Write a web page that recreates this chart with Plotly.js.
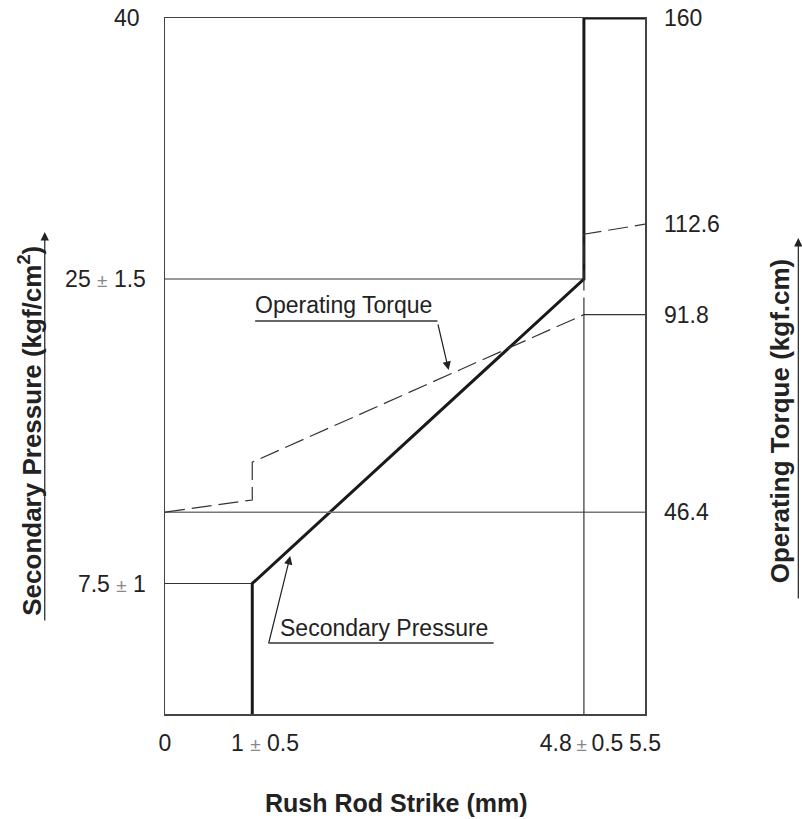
<!DOCTYPE html>
<html>
<head>
<meta charset="utf-8">
<script src="https://cdn.plot.ly/plotly-3.0.1.min.js"></script>
<style>html,body{margin:0;padding:0;background:#fff;}#chart{width:802px;height:819px;}</style>
</head>
<body>
<div id="chart"></div>
<script>
// ---- data ----
const pressureX = [1, 1, 4.8, 4.8, 5.5];
const pressureY = [0, 7.5, 25, 40, 40];
const torqueX = [0, 1, 1, 4.8, 4.8, 5.5];
const torqueY = [46.4, 49.2, 57.9, 91.8, 110.3, 112.6];
const pressureGuideLevels = [7.5, 25];
const pressureGuideEnds = [1, 4.8];
const torqueGuideLevels = [46.4, 91.8];
const torqueGuideStarts = [0, 4.8];
const torqueGuideEnd = 5.5;
const strokeAtLimit = 4.8;
const xTickVals = [0, 1, 4.8, 5.5];
const pm = "<span style='font-size:19px;color:#888'>±</span>";
const xTickText = ["0", "\u00a0\u00a0\u00a0\u00a01 " + pm + " 0.5", "4.8\u2009" + pm + "\u20090.5\u2009", "5.5"];
const yTickVals = [7.5, 25, 40];
const yTickText = ["7.5 " + pm + " 1", "25 " + pm + " 1.5", "40\u00a0"];
const y2TickVals = [46.4, 91.8, 112.6, 160];
const y2TickText = ["46.4", "91.8", "112.6", "160"];

const thin = {color: '#333', width: 1.2};
const traces = [];
// pressure guide lines (left axis)
pressureGuideLevels.forEach((lv, i) => {
  traces.push({x: [0, pressureGuideEnds[i]], y: [lv, lv], mode: 'lines', line: thin, hoverinfo: 'skip', showlegend: false, cliponaxis: false});
});
// torque guide lines (right axis)
torqueGuideLevels.forEach((lv, i) => {
  traces.push({x: [torqueGuideStarts[i], torqueGuideEnd], y: [lv, lv], yaxis: 'y2', mode: 'lines',
    line: i === 0 ? {color: '#777', width: 1.5} : thin, hoverinfo: 'skip', showlegend: false, cliponaxis: false});
});
// vertical guide at stroke limit
traces.push({x: [strokeAtLimit, strokeAtLimit], y: [0, torqueGuideLevels[1]], yaxis: 'y2', mode: 'lines', line: thin, hoverinfo: 'skip', showlegend: false, cliponaxis: false});
// torque dashed curve
traces.push({x: torqueX, y: torqueY, yaxis: 'y2', mode: 'lines', name: 'Operating Torque',
  line: {color: '#333', width: 1.2, dash: '20px,7px'}, showlegend: false, cliponaxis: false});
// secondary pressure thick curve
traces.push({x: pressureX, y: pressureY, mode: 'lines', name: 'Secondary Pressure',
  line: {color: '#1a1a1a', width: 3}, showlegend: false, cliponaxis: false});

const font = {family: 'Liberation Sans, Arial, sans-serif', size: 23, color: '#222'};
const boldX = {family: 'Liberation Sans, Arial, sans-serif', size: 25, color: '#222', weight: 'bold'};
const boldY = {family: 'Liberation Sans, Arial, sans-serif', size: 26, color: '#222', weight: 'bold'};

const layout = {
  width: 802, height: 819,
  margin: {l: 165, r: 157, t: 18, b: 105},
  paper_bgcolor: '#fff', plot_bgcolor: '#fff',
  font: font,
  showlegend: false,
  xaxis: {range: [0, 5.5], showgrid: false, zeroline: false, showline: true, mirror: true,
    linecolor: '#444', linewidth: 1.5, tickvals: xTickVals, ticktext: xTickText, ticks: '',
    tickangle: 0, ticklabelstandoff: 8, tickfont: font, fixedrange: true},
  yaxis: {range: [0, 40], showgrid: false, zeroline: false, showline: true, mirror: true,
    linecolor: '#444', linewidth: 1.5, tickvals: yTickVals, ticktext: yTickText, ticks: '',
    ticklabelstandoff: 13, tickfont: font, fixedrange: true},
  yaxis2: {range: [0, 160], overlaying: 'y', side: 'right', showgrid: false, zeroline: false,
    showline: false, tickvals: y2TickVals, ticktext: y2TickText, ticks: '',
    ticklabelstandoff: 18, tickfont: font, fixedrange: true},
  annotations: [
    {text: 'Rush Rod Strike (mm)', xref: 'paper', yref: 'paper', x: 0.482, y: -0.128,
      xanchor: 'center', yanchor: 'middle', showarrow: false, font: boldX},
    {text: 'Secondary Pressure (kgf/cm<sup>2</sup>)', xref: 'paper', yref: 'paper', x: -0.2818, y: 0.4066,
      xanchor: 'center', yanchor: 'middle', textangle: -90, showarrow: false, font: boldY},
    {text: 'Operating Torque (kgf.cm)', xref: 'paper', yref: 'paper', x: 1.2818, y: 0.421,
      xanchor: 'center', yanchor: 'middle', textangle: -90, showarrow: false, font: boldY},
    {text: '', xref: 'paper', yref: 'paper', x: -0.2505, y: 0.6925, ax: 0, ay: 390,
      showarrow: true, arrowhead: 2, arrowsize: 1.4, arrowwidth: 1.2, arrowcolor: '#222'},
    {text: '', xref: 'paper', yref: 'paper', x: 1.3194, y: 0.6839, ax: 0, ay: 362,
      showarrow: true, arrowhead: 2, arrowsize: 1.4, arrowwidth: 1.2, arrowcolor: '#222'},
    {text: 'Operating Torque', xref: 'x', yref: 'y', x: 1.01, y: 22.65, xanchor: 'left', yanchor: 'bottom',
      showarrow: false, font: font},
    {text: '', xref: 'x', yref: 'y', x: 3.25, y: 19.77, ax: -11, ay: -47,
      showarrow: true, arrowhead: 2, arrowsize: 1.4, arrowwidth: 1.2, arrowcolor: '#222'},
    {text: 'Secondary Pressure', xref: 'x', yref: 'y', x: 1.29, y: 4.1, xanchor: 'left', yanchor: 'bottom',
      showarrow: false, font: font},
    {text: '', xref: 'x', yref: 'y', x: 1.435, y: 9.08, ax: -22, ay: 89,
      showarrow: true, arrowhead: 2, arrowsize: 1.4, arrowwidth: 1.2, arrowcolor: '#222'}
  ],
  shapes: [
    {type: 'line', xref: 'x', yref: 'y', x0: 1.033, x1: 3.122, y0: 22.59, y1: 22.59, line: {color: '#333', width: 1.5}},
    {type: 'line', xref: 'x', yref: 'y', x0: 1.194, x1: 3.766, y0: 4.08, y1: 4.08, line: {color: '#333', width: 1.5}}
  ]
};

Plotly.newPlot('chart', traces, layout, {displayModeBar: false, staticPlot: true});
</script>
</body>
</html>
